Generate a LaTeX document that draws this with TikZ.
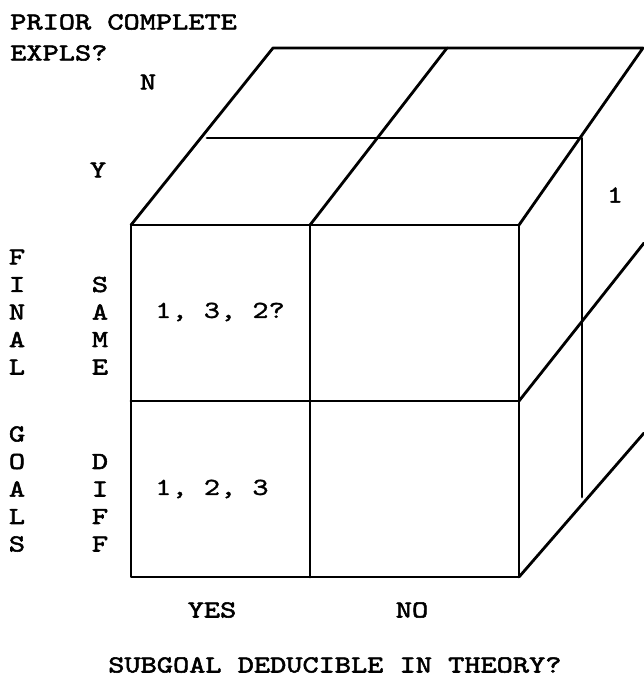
\documentclass[tikz,border=0pt]{standalone}
\usepackage{fontspec}
\newfontfamily\courfont[FakeBold=2.2,FakeStretch=1.26]{lmmono10-regular.otf}
\newfontfamily\courmfont[FakeBold=1.2,FakeStretch=1.26]{lmmono10-regular.otf}
\usetikzlibrary{positioning}
\tikzset{
  cube/.style={line width=2pt,line cap=round,line join=round},
  lbl/.style={inner sep=0pt,font=\courfont\fontsize{17.4}{19}\selectfont},
  numtxt/.style={lbl,anchor=west,font=\courmfont\fontsize{17.4}{19}\selectfont},
}
\begin{document}
\begin{tikzpicture}[x=0.025cm,y=-0.025cm]
  \useasboundingbox (0,0) rectangle (644,678);
  % front face
  \coordinate (ftl) at (131,225); \coordinate (ftm) at (310,225); \coordinate (ftr) at (519,225);
  \coordinate (fml) at (131,401); \coordinate (fmr) at (519,401);
  \coordinate (fbl) at (131,577); \coordinate (fbm) at (310,577); \coordinate (fbr) at (519,577);
  % top and right faces
  \coordinate (btl) at (273,48); \coordinate (btm) at (447,48); \coordinate (btr) at (643,48);
  \coordinate (tml) at (207,138); \coordinate (tmr) at (582,138); \coordinate (rdb) at (582,497);
  \coordinate (rmr) at (644,243); \coordinate (rbr) at (644,433);

  \draw[cube] (ftl) rectangle (fbr);
  \draw[cube] (ftm) -- (fbm);
  \draw[cube] (fml) -- (fmr);
  \draw[cube] (ftl) -- (btl) -- (btr) -- (ftr);
  \draw[cube] (ftm) -- (btm);
  \draw[cube] (tml) -- (tmr) -- (rdb);
  \draw[cube] (fmr) -- (rmr);
  \draw[cube] (fbr) -- (rbr);

  % axis labels
  \node[lbl,anchor=west] (prior) at (10,22) {PRIOR COMPLETE};
  \node[lbl,anchor=west] (expls) at (10,53) {EXPLS?};
  \node[lbl] (no3) at (148,82) {N};
  \node[lbl] (yes3) at (98,170) {Y};
  \foreach \c [count=\i from 0] in {F,I,N,A,L}
    \node[lbl] (fin\i) at (17,257+27.5*\i) {\c};
  \foreach \c [count=\i from 0] in {G,O,A,L,S}
    \node[lbl] (goal\i) at (17,434+27.5*\i) {\c};
  \foreach \c [count=\i from 1] in {S,A,M,E}
    \node[lbl] (same\i) at (100,257+27.5*\i) {\c};
  \foreach \c [count=\i from 1] in {D,I,F,F}
    \node[lbl] (diff\i) at (100,434+27.5*\i) {\c};
  \node[lbl] (yes) at (212,610) {YES};
  \node[lbl] (no) at (412,610) {NO};
  \node[lbl,anchor=west] (subgoal) at (108,665) {SUBGOAL DEDUCIBLE IN THEORY?};

  % cell entries
  \node[numtxt] (c11) at (155,312) {1, 3, 2?};
  \node[numtxt] (c21) at (155,489) {1, 2, 3};
  \node[numtxt,anchor=center] (c3) at (615,195) {1};
\end{tikzpicture}
\end{document}
